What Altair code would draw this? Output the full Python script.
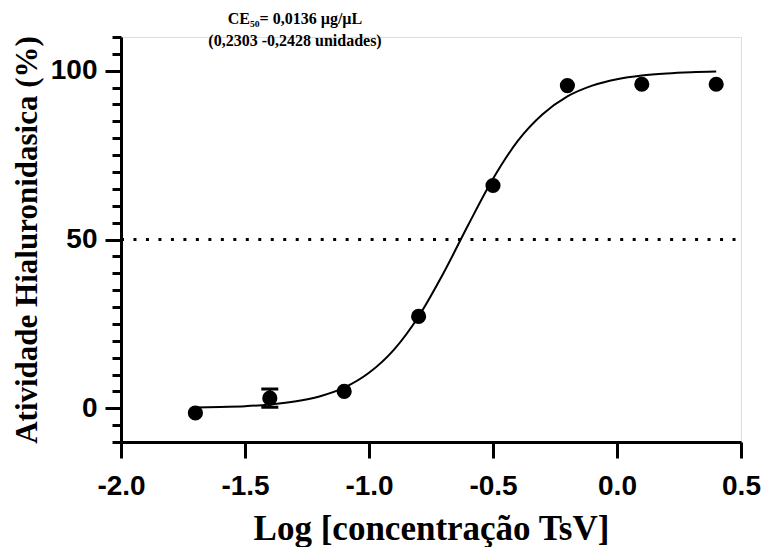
import altair as alt
import pandas as pd

# Measured points (log concentration vs activity %)
x_points = [-1.7, -1.4, -1.1, -0.8, -0.5, -0.2, 0.1, 0.4]
y_points = [-1.4, 3.0, 5.0, 27.2, 66.0, 95.6, 96.0, 96.0]

# Error bar (only visible one)
err_x = [-1.4]
err_lo = [0.3]
err_hi = [5.7]

# Fitted curve
curve_x = [-1.7, -1.6, -1.5, -1.4, -1.3, -1.2, -1.1, -1.0, -0.9, -0.8, -0.7,
           -0.6, -0.5, -0.4, -0.3, -0.2, -0.1, 0.0, 0.1, 0.2, 0.3, 0.4]
curve_y = [0.2, 0.4, 0.6, 1.1, 2.0, 3.5, 6.1, 10.5, 17.3, 27.2, 40.0,
           54.3, 68.0, 79.2, 87.1, 92.4, 95.6, 97.5, 98.6, 99.2, 99.55, 99.75]

# Reference line at 50 %
ref_x = [-2.0]
ref_x2 = [0.5]
ref_y = [50]

x_ticks = [-2.0, -1.5, -1.0, -0.5, 0.0, 0.5]
y_major_ticks = [0, 50, 100]
y_minor_ticks = [-10, -5, 0, 5, 10, 15, 20, 25, 30, 35, 40, 45, 50, 55, 60,
                 65, 70, 75, 80, 85, 90, 95, 100, 105, 110]

title_lines = ["CE₅₀= 0,0136 µg/µL", "(0,2303 -0,2428 unidades)"]
x_title = "Log [concentração TsV]"
y_title = "Atividade Hialuronidasica (%)"

df_pts = pd.DataFrame({"x": x_points, "y": y_points})
df_err = pd.DataFrame({"x": err_x, "lo": err_lo, "hi": err_hi})
df_curve = pd.DataFrame({"x": curve_x, "y": curve_y})
df_ref = pd.DataFrame({"x": ref_x, "x2": ref_x2, "y": ref_y})

xscale = alt.Scale(domain=[-2.0, 0.5], nice=False, zero=False)
yscale = alt.Scale(domain=[-10, 110], nice=False, zero=False)

x_axis = alt.Axis(
    values=x_ticks, title=x_title,
    labelExpr="datum.value < 0 ? '-' + format(-datum.value, '.1f') : format(datum.value, '.1f')",
    tickSize=16, tickWidth=3, tickColor="black",
    domainWidth=3, domainColor="black",
    labelFont="Liberation Sans", labelFontWeight="bold", labelFontSize=28,
    labelColor="black", labelPadding=14, labelFlush=False, labelOverlap=False,
    labelBound=False,
    titleFont="Liberation Serif", titleFontWeight="bold", titleFontSize=35,
    titleColor="black", titlePadding=11, grid=False,
)

y_minor_axis = alt.Axis(
    values=y_minor_ticks, title=None, labels=False, orient="left",
    tickSize=9, tickWidth=3, tickColor="black",
    domain=True, domainWidth=3, domainColor="black", grid=False,
)

y_major_axis = alt.Axis(
    values=y_major_ticks, title=y_title, orient="left", domain=False,
    tickSize=16, tickWidth=3, tickColor="black",
    labelFont="Liberation Sans", labelFontWeight="bold", labelFontSize=28,
    labelColor="black", labelPadding=8, labelOverlap=False, labelBound=False,
    labelFlush=False,
    titleFont="Liberation Serif", titleFontWeight="bold", titleFontSize=31,
    titleColor="black", titlePadding=7, grid=False,
)

ref = alt.Chart(df_ref).mark_rule(
    color="black", strokeWidth=3, strokeDash=[3, 9.48]
).encode(
    x=alt.X("x:Q", scale=xscale, axis=x_axis),
    x2="x2:Q",
    y=alt.Y("y:Q", scale=yscale, axis=y_minor_axis),
)

curve = alt.Chart(df_curve).mark_line(
    color="black", strokeWidth=2, interpolate="monotone"
).encode(
    x=alt.X("x:Q", scale=xscale, axis=x_axis),
    y=alt.Y("y:Q", scale=yscale, axis=y_major_axis),
)

err_rule = alt.Chart(df_err).mark_rule(color="black", strokeWidth=3).encode(
    x=alt.X("x:Q", scale=xscale, axis=x_axis),
    y=alt.Y("lo:Q", scale=yscale, axis=None),
    y2="hi:Q",
)

err_cap_hi = alt.Chart(df_err).mark_tick(
    color="black", thickness=3, size=17, orient="horizontal", opacity=1
).encode(
    x=alt.X("x:Q", scale=xscale, axis=x_axis),
    y=alt.Y("hi:Q", scale=yscale, axis=None),
)

err_cap_lo = alt.Chart(df_err).mark_tick(
    color="black", thickness=3, size=17, orient="horizontal", opacity=1
).encode(
    x=alt.X("x:Q", scale=xscale, axis=x_axis),
    y=alt.Y("lo:Q", scale=yscale, axis=None),
)

points = alt.Chart(df_pts).mark_circle(color="black", size=230, opacity=1).encode(
    x=alt.X("x:Q", scale=xscale, axis=x_axis),
    y=alt.Y("y:Q", scale=yscale, axis=None),
)

chart = alt.layer(ref, curve, err_rule, err_cap_hi, err_cap_lo, points).resolve_axis(
    y="independent"
).properties(
    width=620,
    height=405,
    autosize="none",
    padding={"left": 121, "top": 37, "right": 22, "bottom": 105},
    title=alt.TitleParams(
        text=title_lines, font="Liberation Serif", fontWeight="bold",
        fontSize=16, lineHeight=22, color="black", anchor="middle",
        dx=-136, offset=-13,
    ),
).configure_view(stroke=None).configure(background="white")

chart.save("out.html", embed_options={"renderer": "svg", "actions": False})
